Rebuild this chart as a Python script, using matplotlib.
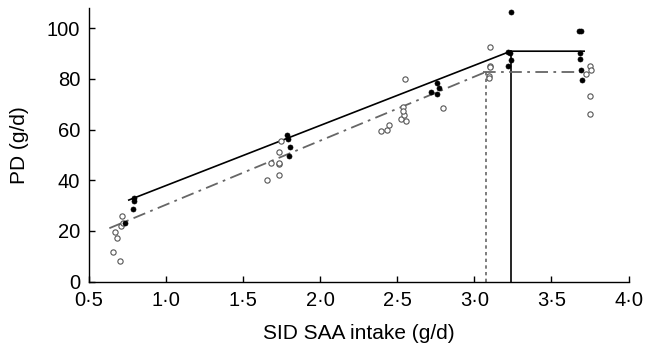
import numpy as np
import matplotlib.pyplot as plt

plt.rcParams['font.family'] = ['Liberation Sans', 'DejaVu Sans']

# open circles (one group), filled circles (other group)
open_x = [0.658, 0.673, 0.684, 0.701, 0.716, 0.712, 0.723,
          1.655, 1.683, 1.733, 1.735, 1.735, 1.748, 1.737,
          2.397, 2.432, 2.445, 2.525, 2.540, 2.542, 2.536, 2.555, 2.553, 2.798,
          3.099, 3.099, 3.101, 3.095, 3.097,
          3.727, 3.753, 3.757, 3.749, 3.751]
open_y = [11.6, 19.5, 17.1, 8.2, 26.0, 22.0, 23.0,
          40.0, 46.8, 51.1, 46.4, 42.1, 55.4, 46.8,
          59.6, 59.9, 61.6, 64.2, 68.8, 65.8, 67.5, 63.4, 79.9, 68.4,
          92.5, 85.2, 84.8, 81.2, 80.5,
          82.0, 84.9, 83.5, 73.3, 66.2]

filled_x = [0.738, 0.786, 0.794, 0.794,
            1.784, 1.795, 1.802, 1.797,
            2.720, 2.755, 2.770, 2.761,
            3.236, 3.218, 3.234, 3.236, 3.217,
            3.680, 3.690, 3.688, 3.688, 3.692, 3.697]
filled_y = [23.1, 28.7, 32.9, 32.0,
            57.8, 56.4, 53.2, 49.7,
            74.7, 74.0, 76.3, 78.5,
            106.3, 90.5, 90.1, 87.5, 85.1,
            98.7, 98.7, 90.1, 87.9, 83.5, 79.6]

# broken-line fits: start x, break x, end x, start y, plateau y
solid_fit = [0.76, 3.236, 3.712, 32.2, 90.9]
dash_fit = [0.634, 3.078, 3.706, 21.1, 82.8]

xticks = [0.5, 1.0, 1.5, 2.0, 2.5, 3.0, 3.5, 4.0]
xticklabels = ['0·5', '1·0', '1·5', '2·0', '2·5', '3·0', '3·5', '4·0']
yticks = [0, 20, 40, 60, 80, 100]

fig = plt.figure(figsize=(6.45, 3.48), dpi=100)
ax = fig.add_axes([0.1375, 0.1905, 0.837, 0.787])

# solid fit
x0, xb, x1, y0, yp = solid_fit
ax.plot([x0, xb, x1], [y0, yp, yp], color='black', lw=1.2, zorder=2)
ax.plot([xb, xb], [0, yp], color='black', lw=1.2, zorder=2)

# dash-dot fit
x0, xb, x1, y0, yp = dash_fit
ax.plot([x0, xb], [y0, yp], color='#666666', lw=1.3, ls=(0, (7, 3, 1.5, 3)), zorder=2)
ax.plot([xb - 0.02, x1], [yp, yp], color='#666666', lw=1.3, ls=(0, (7, 3, 1.5, 3)), zorder=2)
ax.plot([xb, xb], [0, yp], color='#666666', lw=1.2, ls=(0, (2, 2)), zorder=2)

ax.plot(open_x, open_y, 'o', ms=3.8, mfc='white', mec='#555555', mew=0.8, zorder=3)
ax.plot(filled_x, filled_y, 'o', ms=3.6, mfc='black', mec='black', mew=0.5, zorder=4)

ax.set_xlim(0.5, 4.0)
ax.set_ylim(0, 108)
ax.set_xticks(xticks)
ax.set_xticklabels(xticklabels)
ax.set_yticks(yticks)
ax.tick_params(direction='in', labelsize=14.5, length=4, width=1)
ax.tick_params(axis='x', pad=7)
ax.tick_params(axis='y', pad=6)
for s in ['top', 'right']:
    ax.spines[s].set_visible(False)
for s in ['left', 'bottom']:
    ax.spines[s].set_linewidth(1)

ax.set_xlabel('SID SAA intake (g/d)', fontsize=15, labelpad=10)
ax.set_ylabel('PD (g/d)', fontsize=15, labelpad=13)

fig.savefig('out.png', dpi=100)
